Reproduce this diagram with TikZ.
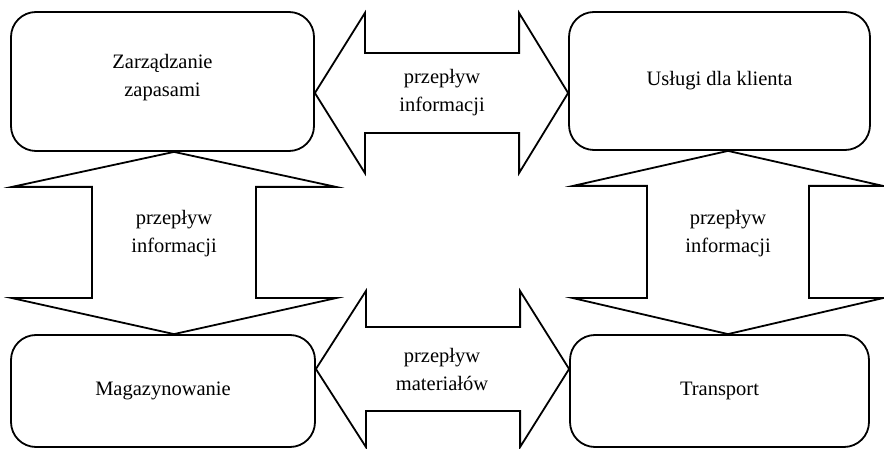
\documentclass[tikz,border=0pt]{standalone}
\usepackage{fontspec}
\setmainfont{Liberation Serif}
\usetikzlibrary{calc}
\begin{document}
\begin{tikzpicture}[x=1pt, y=-1pt,
    box/.style={draw, line width=1.8pt, rounded corners=25pt, align=center,
      font=\fontsize{20.5}{28}\selectfont},
    lbl/.style={align=center, font=\fontsize{20.5}{28}\selectfont},
    flow/.style={draw, line width=1.8pt, line join=miter}]
    \useasboundingbox (0,0) rectangle (884,449);
    % the four areas
    \node[box, minimum width=303pt, minimum height=139pt] (zap) at (162.5,81.5)
      {Zarządzanie\\zapasami\\[-16pt]};
    \node[box, minimum width=301pt, minimum height=138pt] (klient) at (719.5,81)
      {Usługi dla klienta};
    \node[box, minimum width=304pt, minimum height=112pt] (mag) at (163,391)
      {Magazynowanie};
    \node[box, minimum width=299pt, minimum height=112pt] (trans) at (719.5,391)
      {Transport};
    % labels of the flows
    \node[lbl] (inf1) at (442,93) {przepływ\\informacji};
    \node[lbl] (inf2) at (174,234) {przepływ\\informacji};
    \node[lbl] (inf3) at (728,234) {przepływ\\informacji};
    \node[lbl] (mat) at (442,369) {przepływ\\materiałów};
    % double arrows between the areas
    \draw[flow] (zap.east |- inf1) -- ++(50,-80) -- ++(0,40)
      -- ($(klient.west |- inf1)+(-49,-40)$) -- ++(0,-40) -- (klient.west |- inf1)
      -- ++(-49,80) -- ++(0,-40) -- ($(zap.east |- inf1)+(50,40)$) -- ++(0,40) -- cycle;
    \draw[flow] (mag.east |- mat) -- ++(50,-78) -- ++(0,36)
      -- ($(trans.west |- mat)+(-49,-42)$) -- ++(0,-36) -- (trans.west |- mat)
      -- ++(-49,78) -- ++(0,-36) -- ($(mag.east |- mat)+(50,42)$) -- ++(0,36) -- cycle;
    \draw[flow] (inf2 |- zap.south) -- ++(162,35) -- ++(-80,0)
      -- ($(inf2 |- mag.north)+(82,-36)$) -- ++(80,0) -- (inf2 |- mag.north)
      -- ++(-162,-36) -- ++(80,0) -- ($(inf2 |- zap.south)+(-82,35)$) -- ++(-80,0) -- cycle;
    \draw[flow] (inf3 |- klient.south) -- ++(155,35) -- ++(-74,0)
      -- ($(inf3 |- trans.north)+(81,-36)$) -- ++(74,0) -- (inf3 |- trans.north)
      -- ++(-155,-36) -- ++(74,0) -- ($(inf3 |- klient.south)+(-81,35)$) -- ++(-74,0) -- cycle;
\end{tikzpicture}
\end{document}
